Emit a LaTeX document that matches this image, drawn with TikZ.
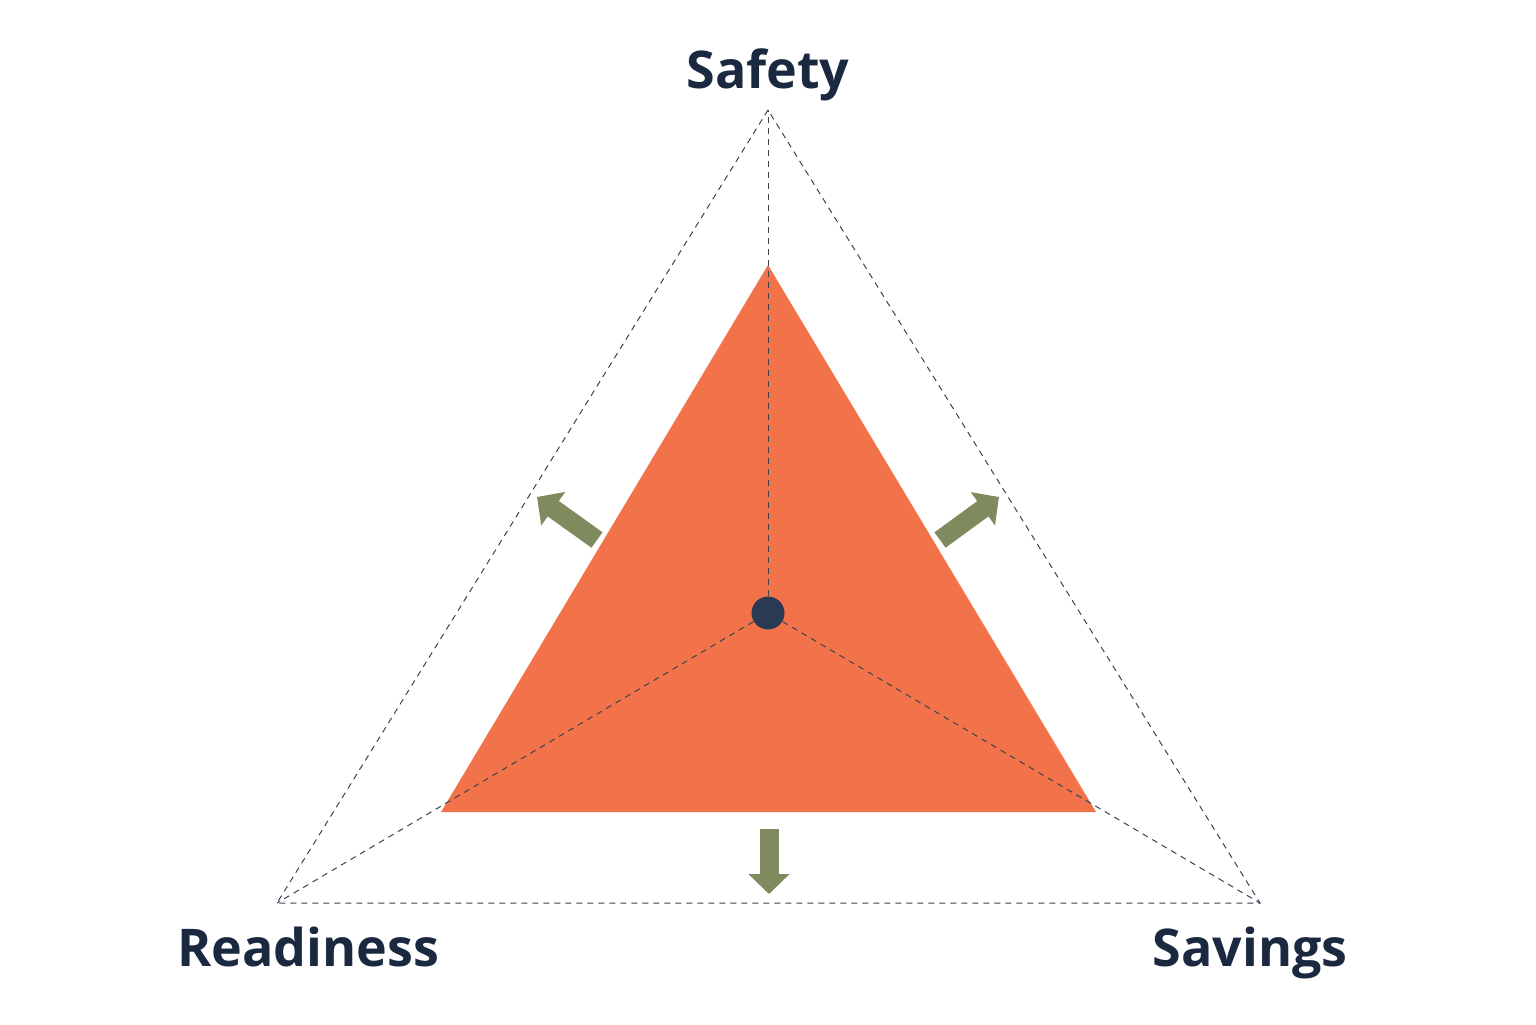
\documentclass[tikz,border=0pt]{standalone}
\usepackage{fontspec}
\setmainfont{Open Sans}
\usetikzlibrary{arrows.meta}

\definecolor{coralFill}{HTML}{F27349}
\definecolor{oliveArrow}{HTML}{7F8A5F}
\definecolor{navyText}{HTML}{1B2940}
\definecolor{navyDot}{HTML}{2A3A55}
\definecolor{guideGray}{HTML}{3A4250}

\begin{document}
\begin{tikzpicture}[x=0.5pt, y=-0.5pt,
	guide/.style = {color = guideGray, line width = 0.5pt, dash pattern = on 3pt off 2.5pt},
	pushArrow/.style = {color = oliveArrow, line width = 9.5pt, -{Triangle[length = 10pt, width = 20pt]}},
	cornerLabel/.style = {color = navyText, font = \bfseries\fontsize{26}{31}\selectfont, anchor = base}
]
	\useasboundingbox (0, 0) rectangle (1536, 1024);

	% outer dashed triangle
	\coordinate (outerTop) at (768, 110);
	\coordinate (outerLeft) at (277, 903);
	\coordinate (outerRight) at (1260, 903);
	\draw[guide] (outerTop) -- (outerLeft) -- (outerRight) -- cycle;

	% coral triangle for the current balance
	\coordinate (innerTop) at (768, 265);
	\coordinate (innerLeft) at (441, 812);
	\coordinate (innerRight) at (1096, 812);
	\fill[color = coralFill] (innerTop) -- (innerLeft) -- (innerRight) -- cycle;

	% dark dot in the middle and the spokes to the corners
	\def\centreDotSize{16.5pt}
	\node[circle, fill = navyDot, inner sep = 0, minimum size = \centreDotSize] (centre) at (768, 613) {};
	\draw[guide] (centre) -- (outerTop);
	\draw[guide] (centre) -- (outerLeft);
	\draw[guide] (centre) -- (outerRight);

	% arrows pushing outwards
	\coordinate (leftTail) at (597, 540);
	\coordinate (leftTip) at (537, 497);
	\coordinate (rightTail) at (940, 540);
	\coordinate (rightTip) at (999, 497);
	\coordinate (downTail) at (769, 829);
	\coordinate (downTip) at (769, 894);
	\draw[pushArrow] (leftTail) -- (leftTip);
	\draw[pushArrow] (rightTail) -- (rightTip);
	\draw[pushArrow] (downTail) -- (downTip);

	% corner labels
	\node[cornerLabel] (safety) at (768, 88) {Safety};
	\node[cornerLabel] (readiness) at (308, 966) {Readiness};
	\node[cornerLabel] (savings) at (1250, 966) {Savings};

\end{tikzpicture}
\end{document}
